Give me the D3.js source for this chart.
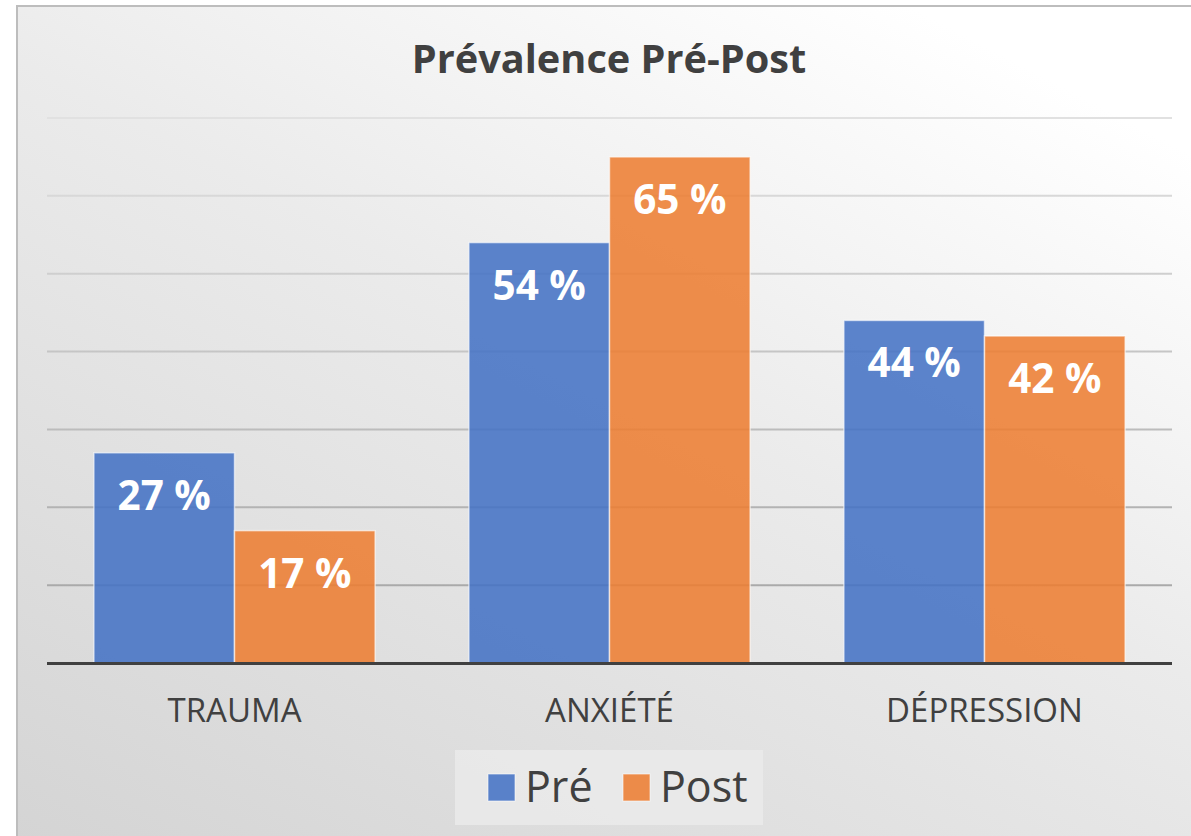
<!DOCTYPE html>
<html><head><meta charset="utf-8">
<script src="https://cdn.jsdelivr.net/npm/d3@7"></script>
<style>html,body{margin:0;padding:0;background:#fff;overflow:hidden}</style>
</head><body>
<svg id="chart" width="1191" height="836"></svg>
<script>
const title = "Prévalence Pré-Post";
const categories = ["TRAUMA", "ANXIÉTÉ", "DÉPRESSION"];
const seriesNames = ["Pré", "Post"];
const preValues = [27, 54, 44];
const postValues = [17, 65, 42];
const gridTicks = [10, 20, 30, 40, 50, 60, 70];
const colors = ["#4472c4", "#ed7d31"];

const svg = d3.select("#chart");
const W = 1191, H = 836;
const font = "'Open Sans', 'Noto Sans', sans-serif";

const defs = svg.append("defs");
const bg = defs.append("linearGradient").attr("id","bg")
  .attr("x1","0%").attr("y1","100%").attr("x2","75%").attr("y2","0%");
bg.append("stop").attr("offset","0%").attr("stop-color","#d4d4d4");
bg.append("stop").attr("offset","60%").attr("stop-color","#ebebeb");
bg.append("stop").attr("offset","100%").attr("stop-color","#ffffff");
const gg = defs.append("linearGradient").attr("id","grid").attr("gradientUnits","userSpaceOnUse")
  .attr("x1",0).attr("y1",110).attr("x2",0).attr("y2",600);
gg.append("stop").attr("offset","0%").attr("stop-color","#e2e2e2");
gg.append("stop").attr("offset","100%").attr("stop-color","#a8a8a8");

svg.append("rect").attr("x",17).attr("y",6).attr("width",W).attr("height",H)
  .attr("fill","url(#bg)").attr("stroke","#bdbdbd").attr("stroke-width",2);

const m = {left:47, right:1172, top:118, bottom:663};
const x0 = d3.scaleBand().domain(categories).range([m.left, m.right]).paddingInner(0.25).paddingOuter(0.125);
const x1 = d3.scaleBand().domain(seriesNames).range([0, x0.bandwidth()]).padding(0);
const y = d3.scaleLinear().domain([0, 70]).range([m.bottom, m.top]);

// title
svg.append("text").attr("x", 609).attr("y", 73).attr("text-anchor","middle")
  .attr("font-family", font).attr("font-weight","bold").attr("font-size",39.7)
  .attr("fill","#404040").text(title);

// grid
svg.append("g").selectAll("line").data(gridTicks).join("line")
  .attr("x1", m.left).attr("x2", m.right)
  .attr("y1", d => y(d)).attr("y2", d => y(d))
  .attr("stroke","url(#grid)").attr("stroke-width",2);

const data = categories.map((c,i)=>({cat:c, vals:[preValues[i], postValues[i]]}));
const groups = svg.append("g").selectAll("g").data(data).join("g")
  .attr("transform", d => `translate(${x0(d.cat)},0)`);
groups.selectAll("rect").data(d => d.vals.map((v,j)=>({v, s:seriesNames[j], j})))
  .join("rect")
  .attr("x", d => x1(d.s)).attr("width", x1.bandwidth())
  .attr("y", d => y(d.v)).attr("height", d => y(0) - y(d.v))
  .attr("fill", d => colors[d.j]).attr("fill-opacity",0.87)
  .attr("stroke","#ffffff").attr("stroke-opacity",0.6).attr("stroke-width",1.5);
groups.selectAll("text").data(d => d.vals.map((v,j)=>({v, s:seriesNames[j], j})))
  .join("text")
  .attr("x", d => x1(d.s) + x1.bandwidth()/2)
  .attr("y", d => y(d.v) + 57)
  .attr("text-anchor","middle").attr("font-family",font).attr("font-weight","bold")
  .attr("font-size",40.5).attr("fill","#ffffff")
  .text(d => d.v + " %");

// baseline
svg.append("line").attr("x1", m.left).attr("x2", m.right).attr("y1", y(0)+0.5).attr("y2", y(0)+0.5)
  .attr("stroke","#404040").attr("stroke-width",3);

// category labels
svg.append("g").selectAll("text").data(categories).join("text")
  .attr("x", d => x0(d) + x0.bandwidth()/2).attr("y", 722)
  .attr("text-anchor","middle").attr("font-family",font).attr("font-size",33)
  .attr("fill","#404040").text(d => d);

// legend
const lg = svg.append("g");
lg.append("rect").attr("x",455).attr("y",750).attr("width",308).attr("height",75).attr("fill","#ebebeb").attr("fill-opacity",0.8);
const items = [{n:seriesNames[0], c:colors[0], x:488}, {n:seriesNames[1], c:colors[1], x:623}];
items.forEach(it=>{
  lg.append("rect").attr("x",it.x).attr("y",774).attr("width",27).attr("height",27)
    .attr("fill",it.c).attr("fill-opacity",0.87).attr("stroke","#fff").attr("stroke-opacity",0.6);
  lg.append("text").attr("x",it.x+37).attr("y",802).attr("font-family",font).attr("font-size",43)
    .attr("fill","#404040").text(it.n);
});
</script>
</body></html>
